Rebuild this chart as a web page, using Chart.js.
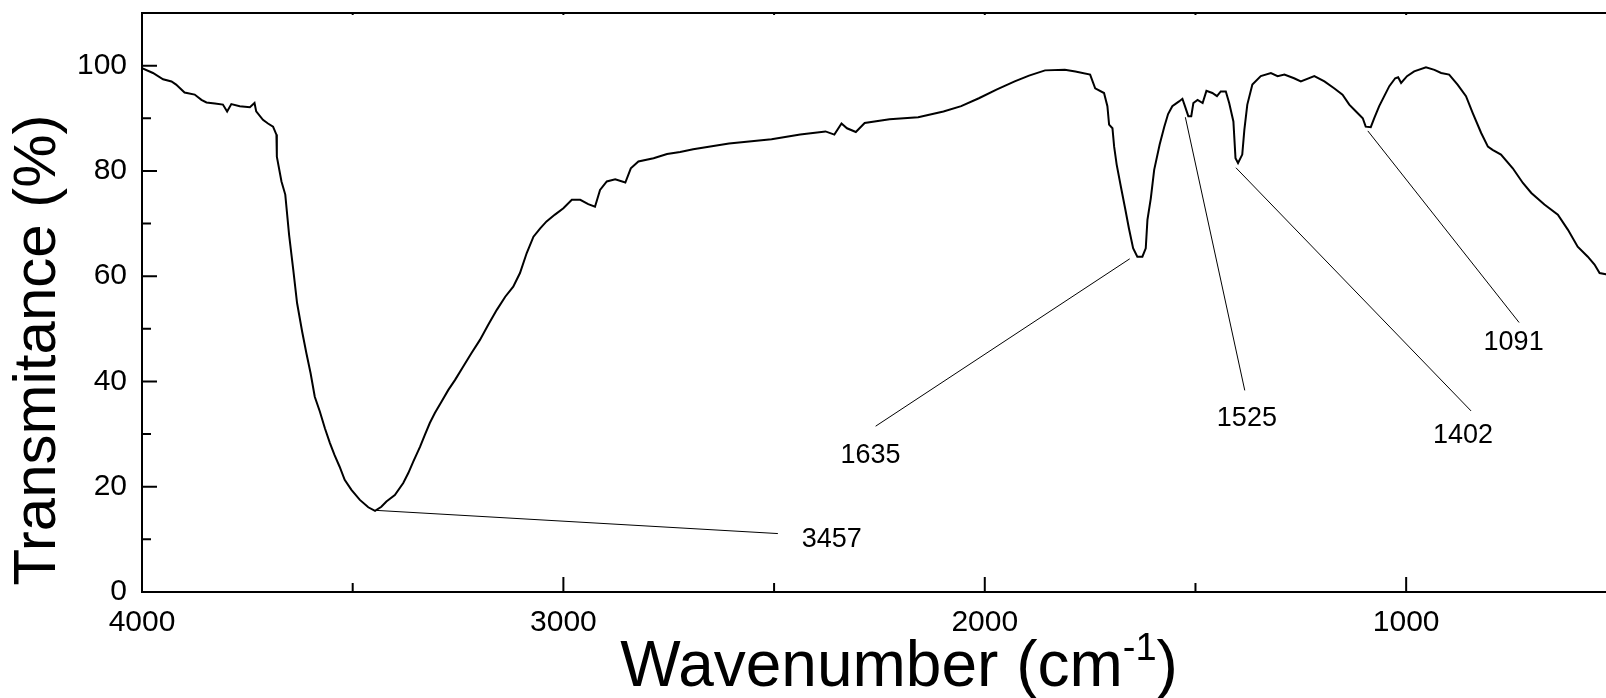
<!DOCTYPE html>
<html><head><meta charset="utf-8">
<script src="https://cdn.jsdelivr.net/npm/chart.js@4/dist/chart.umd.min.js"></script>
<style>
html,body{margin:0;padding:0;background:#fff;overflow:hidden;}
#wrap{position:relative;width:1700px;height:698px;overflow:hidden;}
</style></head><body>
<div id="wrap"><canvas id="c" width="1700" height="698"></canvas></div>
<script>
// ---- data ----
const wavenumbers = [
4000,3974,3950,3930,3919,3899,3875,3859,3847,3827,3808,3798,3788,3768,3744,3733,3729,3713,3701,3689,
3681,3680,3669,3660,3651,3641,3632,3620,3610,3600,3590,3578,3566,3554,3543,3531,3519,3503,3483,3463,
3447,3432,3420,3400,3380,3368,3356,3340,3329,3317,3305,3289,3273,3257,3238,3218,3198,3178,3158,3138,
3119,3103,3087,3071,3055,3040,3020,3000,2980,2960,2941,2925,2913,2897,2877,2853,2840,2822,2786,2754,
2723,2692,2607,2506,2438,2378,2357,2340,2327,2306,2285,2226,2158,2098,2056,2014,1971,1929,1895,1857,
1810,1785,1750,1738,1717,1709,1705,1697,1693,1687,1677,1667,1658,1648,1638,1626,1618,1614,1606,1598,
1585,1574,1565,1555,1539,1531,1525,1517,1510,1505,1495,1483,1474,1460,1449,1440,1428,1420,1410,1405,
1399,1389,1384,1377,1365,1345,1321,1305,1289,1266,1250,1218,1194,1171,1151,1135,1119,1103,1096,1084,
1076,1064,1052,1040,1026,1019,1012,998,981,953,933,917,898,878,858,842,822,806,795,775,
747,723,703,672,640,616,593,569,553,541,523
];
const transmittance = [
99.5,98.6,97.4,97.0,96.4,94.9,94.5,93.5,93.0,92.8,92.6,91.3,92.7,92.3,92.1,92.9,91.3,89.7,89.0,88.4,
86.9,82.7,78.0,75.5,67.9,61.2,54.9,49.5,45.4,41.6,37.1,34.3,31.1,28.3,26.0,23.8,21.3,19.4,17.5,16.1,
15.4,16.2,17.2,18.4,20.7,22.6,24.8,27.6,29.8,32.1,34.0,36.2,38.4,40.3,42.8,45.4,47.9,50.8,53.6,56.1,
58.0,60.6,64.4,67.5,69.1,70.4,71.7,72.9,74.5,74.5,73.7,73.2,76.4,78.0,78.4,77.8,80.5,81.8,82.4,83.2,
83.6,84.1,85.2,86.0,86.9,87.5,86.9,89.0,88.1,87.4,89.1,89.8,90.2,91.3,92.3,93.8,95.5,97.0,98.1,99.1,
99.2,98.9,98.3,95.7,94.8,92.3,88.8,88.1,84.6,81.2,77.0,72.9,69.1,65.3,63.7,63.7,65.3,70.7,74.8,80.2,
85.0,88.4,90.8,92.3,93.2,93.7,92.3,90.4,90.4,92.9,93.5,92.9,95.2,94.8,94.2,95.1,95.1,92.9,89.4,82.4,
81.5,83.1,87.8,92.6,96.4,98.0,98.6,98.0,98.3,97.6,97.0,98.0,97.0,95.7,94.5,92.6,91.3,90.0,88.4,88.3,
90.0,92.3,94.2,96.1,97.6,97.8,96.7,98.0,98.9,99.7,99.2,98.6,98.3,96.4,94.2,91.0,87.2,84.6,84.0,83.1,
80.5,77.7,75.8,73.6,71.7,68.8,65.6,63.7,62.2,60.6,60.3
];
const xTickValues = [4000, 3000, 2000, 1000];
const xMinorTickValues = [3500, 2500, 1500, 500];
const yTickValues = [0, 20, 40, 60, 80, 100];
const yMinorTickValues = [10, 30, 50, 70, 90];
const peakLabels = ['3457', '1635', '1525', '1402', '1091'];
const peakLineStartX = [3443, 1656, 1524, 1404, 1091];
const peakLineStartY = [15.5, 63.3, 90.2, 80.6, 87.6];
const peakLineEndX = [2491, 2259, 1383, 846, 732];
const peakLineEndY = [11.1, 31.5, 38.3, 34.4, 51.2];
const peakTextX = [2363, 2271, 1378, 865, 745];
const peakTextY = [10.0, 26.0, 32.9, 29.8, 47.3];
const xTitleMain = 'Wavenumber (cm';
const xTitleSup = '-1';
const xTitleEnd = ')';
const yTitle = 'Transmitance (%)';

const FONT = '"Liberation Sans", Arial, Helvetica, sans-serif';

const decor = {
  id: 'decor',
  afterDraw(chart) {
    const {ctx, chartArea: a, scales: {x, y}} = chart;
    ctx.save();
    ctx.strokeStyle = '#000';
    ctx.lineWidth = 2;
    ctx.lineCap = 'butt';
    // top frame line
    ctx.beginPath(); ctx.moveTo(a.left - 1, a.top); ctx.lineTo(a.right, a.top); ctx.stroke();
    // inward ticks
    ctx.beginPath();
    yTickValues.forEach(v => { const p = y.getPixelForValue(v); ctx.moveTo(a.left, p); ctx.lineTo(a.left + 15, p); });
    yMinorTickValues.forEach(v => { const p = y.getPixelForValue(v); ctx.moveTo(a.left, p); ctx.lineTo(a.left + 9, p); });
    xTickValues.forEach(v => { const p = x.getPixelForValue(v); ctx.moveTo(p, a.bottom); ctx.lineTo(p, a.bottom - 15); });
    xMinorTickValues.forEach(v => { const p = x.getPixelForValue(v); ctx.moveTo(p, a.bottom); ctx.lineTo(p, a.bottom - 9); });
    xTickValues.concat(xMinorTickValues).forEach(v => { const p = x.getPixelForValue(v); ctx.moveTo(p, a.top); ctx.lineTo(p, a.top + 2); });
    ctx.stroke();
    // peak annotations
    ctx.lineWidth = 1;
    ctx.beginPath();
    peakLabels.forEach((t, i) => {
      ctx.moveTo(x.getPixelForValue(peakLineStartX[i]), y.getPixelForValue(peakLineStartY[i]));
      ctx.lineTo(x.getPixelForValue(peakLineEndX[i]), y.getPixelForValue(peakLineEndY[i]));
    });
    ctx.stroke();
    ctx.fillStyle = '#000';
    ctx.font = '27px ' + FONT;
    ctx.textAlign = 'center';
    ctx.textBaseline = 'middle';
    peakLabels.forEach((t, i) => {
      ctx.fillText(t, x.getPixelForValue(peakTextX[i]), y.getPixelForValue(peakTextY[i]));
    });
    // y title
    ctx.save();
    ctx.translate(55, 350);
    ctx.rotate(-Math.PI / 2);
    ctx.font = '60px ' + FONT;
    ctx.textAlign = 'center';
    ctx.textBaseline = 'alphabetic';
    ctx.fillText(yTitle, 0, 0);
    ctx.restore();
    // x title with superscript
    ctx.textAlign = 'left';
    ctx.textBaseline = 'alphabetic';
    const big = '64px ' + FONT, small = '38px ' + FONT;
    ctx.font = big; const w1 = ctx.measureText(xTitleMain).width; const w3 = ctx.measureText(xTitleEnd).width;
    ctx.font = small; const w2 = ctx.measureText(xTitleSup).width;
    const total = w1 + w2 + w3;
    let sx = 899 - total / 2;
    const base = 686;
    ctx.font = big; ctx.fillText(xTitleMain, sx, base); sx += w1;
    ctx.font = small; ctx.fillText(xTitleSup, sx, base - 26); sx += w2;
    ctx.font = big; ctx.fillText(xTitleEnd, sx, base);
    ctx.restore();
  }
};

new Chart(document.getElementById('c'), {
  type: 'line',
  data: {
    datasets: [{
      data: wavenumbers.map((w, i) => ({x: w, y: transmittance[i]})),
      borderColor: '#000',
      borderWidth: 2,
      pointRadius: 0,
      tension: 0,
      fill: false
    }]
  },
  options: {
    responsive: false,
    animation: false,
    devicePixelRatio: 1,
    layout: {padding: {left: 0, top: 13, right: 41, bottom: 0}},
    plugins: {legend: {display: false}, tooltip: {enabled: false}, title: {display: false}},
    scales: {
      x: {
        type: 'linear', reverse: true, min: 400, max: 4000,
        afterFit: s => { s.height = 106; s.paddingLeft = 0; s.paddingRight = 0; },
        afterBuildTicks: s => { s.ticks = xTickValues.map(v => ({value: v})); },
        ticks: {font: {family: FONT, size: 30}, color: '#000', padding: 13, maxRotation: 0, autoSkip: false,
                callback: v => String(v)},
        grid: {display: true, drawOnChartArea: false, drawTicks: false},
        border: {display: true, color: '#000', width: 2}
      },
      y: {
        type: 'linear', min: 0, max: 110,
        afterFit: s => { s.width = 142; s.paddingTop = 0; s.paddingBottom = 0; },
        afterBuildTicks: s => { s.ticks = yTickValues.map(v => ({value: v})); },
        ticks: {font: {family: FONT, size: 30}, color: '#000', padding: 15, callback: v => String(v)},
        grid: {display: true, drawOnChartArea: false, drawTicks: false},
        border: {display: true, color: '#000', width: 2}
      }
    }
  },
  plugins: [decor]
});
</script>
</body></html>
